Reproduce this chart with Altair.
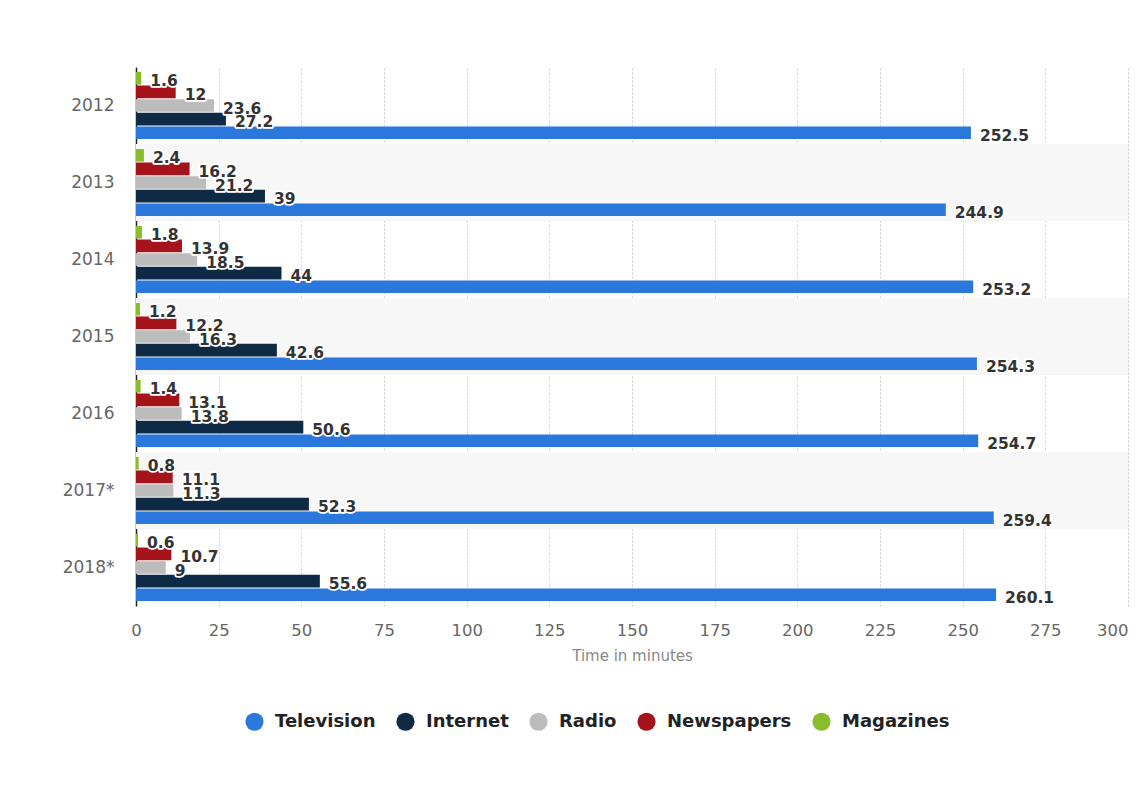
import altair as alt
import pandas as pd

years = ["2012", "2013", "2014", "2015", "2016", "2017*", "2018*"]
series = ["Television", "Internet", "Radio", "Newspapers", "Magazines"]
colors = ["#2a78dc", "#0f2a45", "#bcbcbc", "#a5141b", "#8abd2a"]
television = [252.5, 244.9, 253.2, 254.3, 254.7, 259.4, 260.1]
internet = [27.2, 39, 44, 42.6, 50.6, 52.3, 55.6]
radio = [23.6, 21.2, 18.5, 16.3, 13.8, 11.3, 9]
newspapers = [12, 16.2, 13.9, 12.2, 13.1, 11.1, 10.7]
magazines = [1.6, 2.4, 1.8, 1.2, 1.4, 0.8, 0.6]
striped_years = ["2013", "2015", "2017*"]
x_ticks = [0, 25, 50, 75, 100, 125, 150, 175, 200, 225, 250, 275, 300]

values = {
    "Television": television,
    "Internet": internet,
    "Radio": radio,
    "Newspapers": newspapers,
    "Magazines": magazines,
}
rows = []
for s in series:
    for y, v in zip(years, values[s]):
        rows.append({"year": y, "series": s, "value": v, "label": f"{v:g}"})
df = pd.DataFrame(rows)
stripes = pd.DataFrame({"year": striped_years, "x0": [0] * 3, "x1": [300] * 3})

W, H = 992, 539
offset_order = ["Magazines", "Newspapers", "Radio", "Internet", "Television"]

y_enc = alt.Y(
    "year:N",
    sort=years,
    scale=alt.Scale(domain=years, paddingInner=0.13, paddingOuter=0.065),
    axis=alt.Axis(
        title=None,
        ticks=False,
        grid=False,
        domainColor="#222222",
        domainWidth=1.5,
        labelColor="#666666",
        labelFont="DejaVu Sans",
        labelFontSize=17,
        labelPadding=22,
    ),
)
x_scale = alt.Scale(domain=[0, 300], nice=False)
x_axis = alt.Axis(
    values=x_ticks,
    title="Time in minutes",
    titleColor="#888888",
    titleFont="DejaVu Sans",
    titleFontSize=15,
    titleFontWeight="normal",
    titlePadding=10,
    labelColor="#666666",
    labelFont="DejaVu Sans",
    labelFontSize=16.5,
    labelPadding=16,
    labelAlign={"condition": {"test": "datum.value == 300", "value": "right"}, "value": "center"},
    domain=False,
    ticks=False,
    grid=True,
    gridColor="#cccccc",
    gridDash=[2, 2],
    gridWidth=1,
)

stripe_layer = alt.Chart(stripes).mark_bar(color="#f7f7f7", size=H / 7).encode(
    y=alt.Y("year:N", sort=years, scale=alt.Scale(domain=years)),
    x=alt.X("x0:Q", scale=x_scale, axis=x_axis),
    x2="x1:Q",
)

yoff = alt.YOffset("series:N", sort=offset_order,
                   scale=alt.Scale(domain=offset_order, paddingInner=0.08, paddingOuter=0))

bars = alt.Chart(df).mark_bar().encode(
    y=y_enc,
    yOffset=yoff,
    x=alt.X("value:Q", scale=x_scale, axis=x_axis),
    color=alt.Color(
        "series:N",
        scale=alt.Scale(domain=series, range=colors),
        legend=alt.Legend(
            title=None,
            orient="none",
            direction="horizontal",
            legendX=109,
            legendY=645,
            symbolType="circle",
            symbolSize=330,
            symbolStrokeWidth=0,
            labelFont="DejaVu Sans",
            labelFontSize=18,
            labelFontWeight="bold",
            labelColor="#222222",
            labelOffset=11,
            columnPadding=20,
        ),
    ),
)

halo = alt.Chart(df).mark_text(
    align="left", baseline="middle", dx=9, dy=3, font="DejaVu Sans", fontSize=15.5,
    fontWeight="bold", stroke="white", strokeWidth=3.5, strokeJoin="round", color="white",
).encode(y=y_enc, yOffset=yoff, x=alt.X("value:Q", scale=x_scale), text="label:N")

labels = alt.Chart(df).mark_text(
    align="left", baseline="middle", dx=9, dy=3, font="DejaVu Sans", fontSize=15.5,
    fontWeight="bold", color="#333333",
).encode(y=y_enc, yOffset=yoff, x=alt.X("value:Q", scale=x_scale), text="label:N")

chart = alt.layer(stripe_layer, bars, halo, labels).properties(
    width=W,
    height=H,
    autosize=alt.AutoSizeParams(type="none"),
    padding={"left": 136, "top": 67, "right": 9, "bottom": 179},
    background="white",
).configure_view(stroke=None)

chart.save("out.html", embed_options={"renderer": "svg", "actions": False})
